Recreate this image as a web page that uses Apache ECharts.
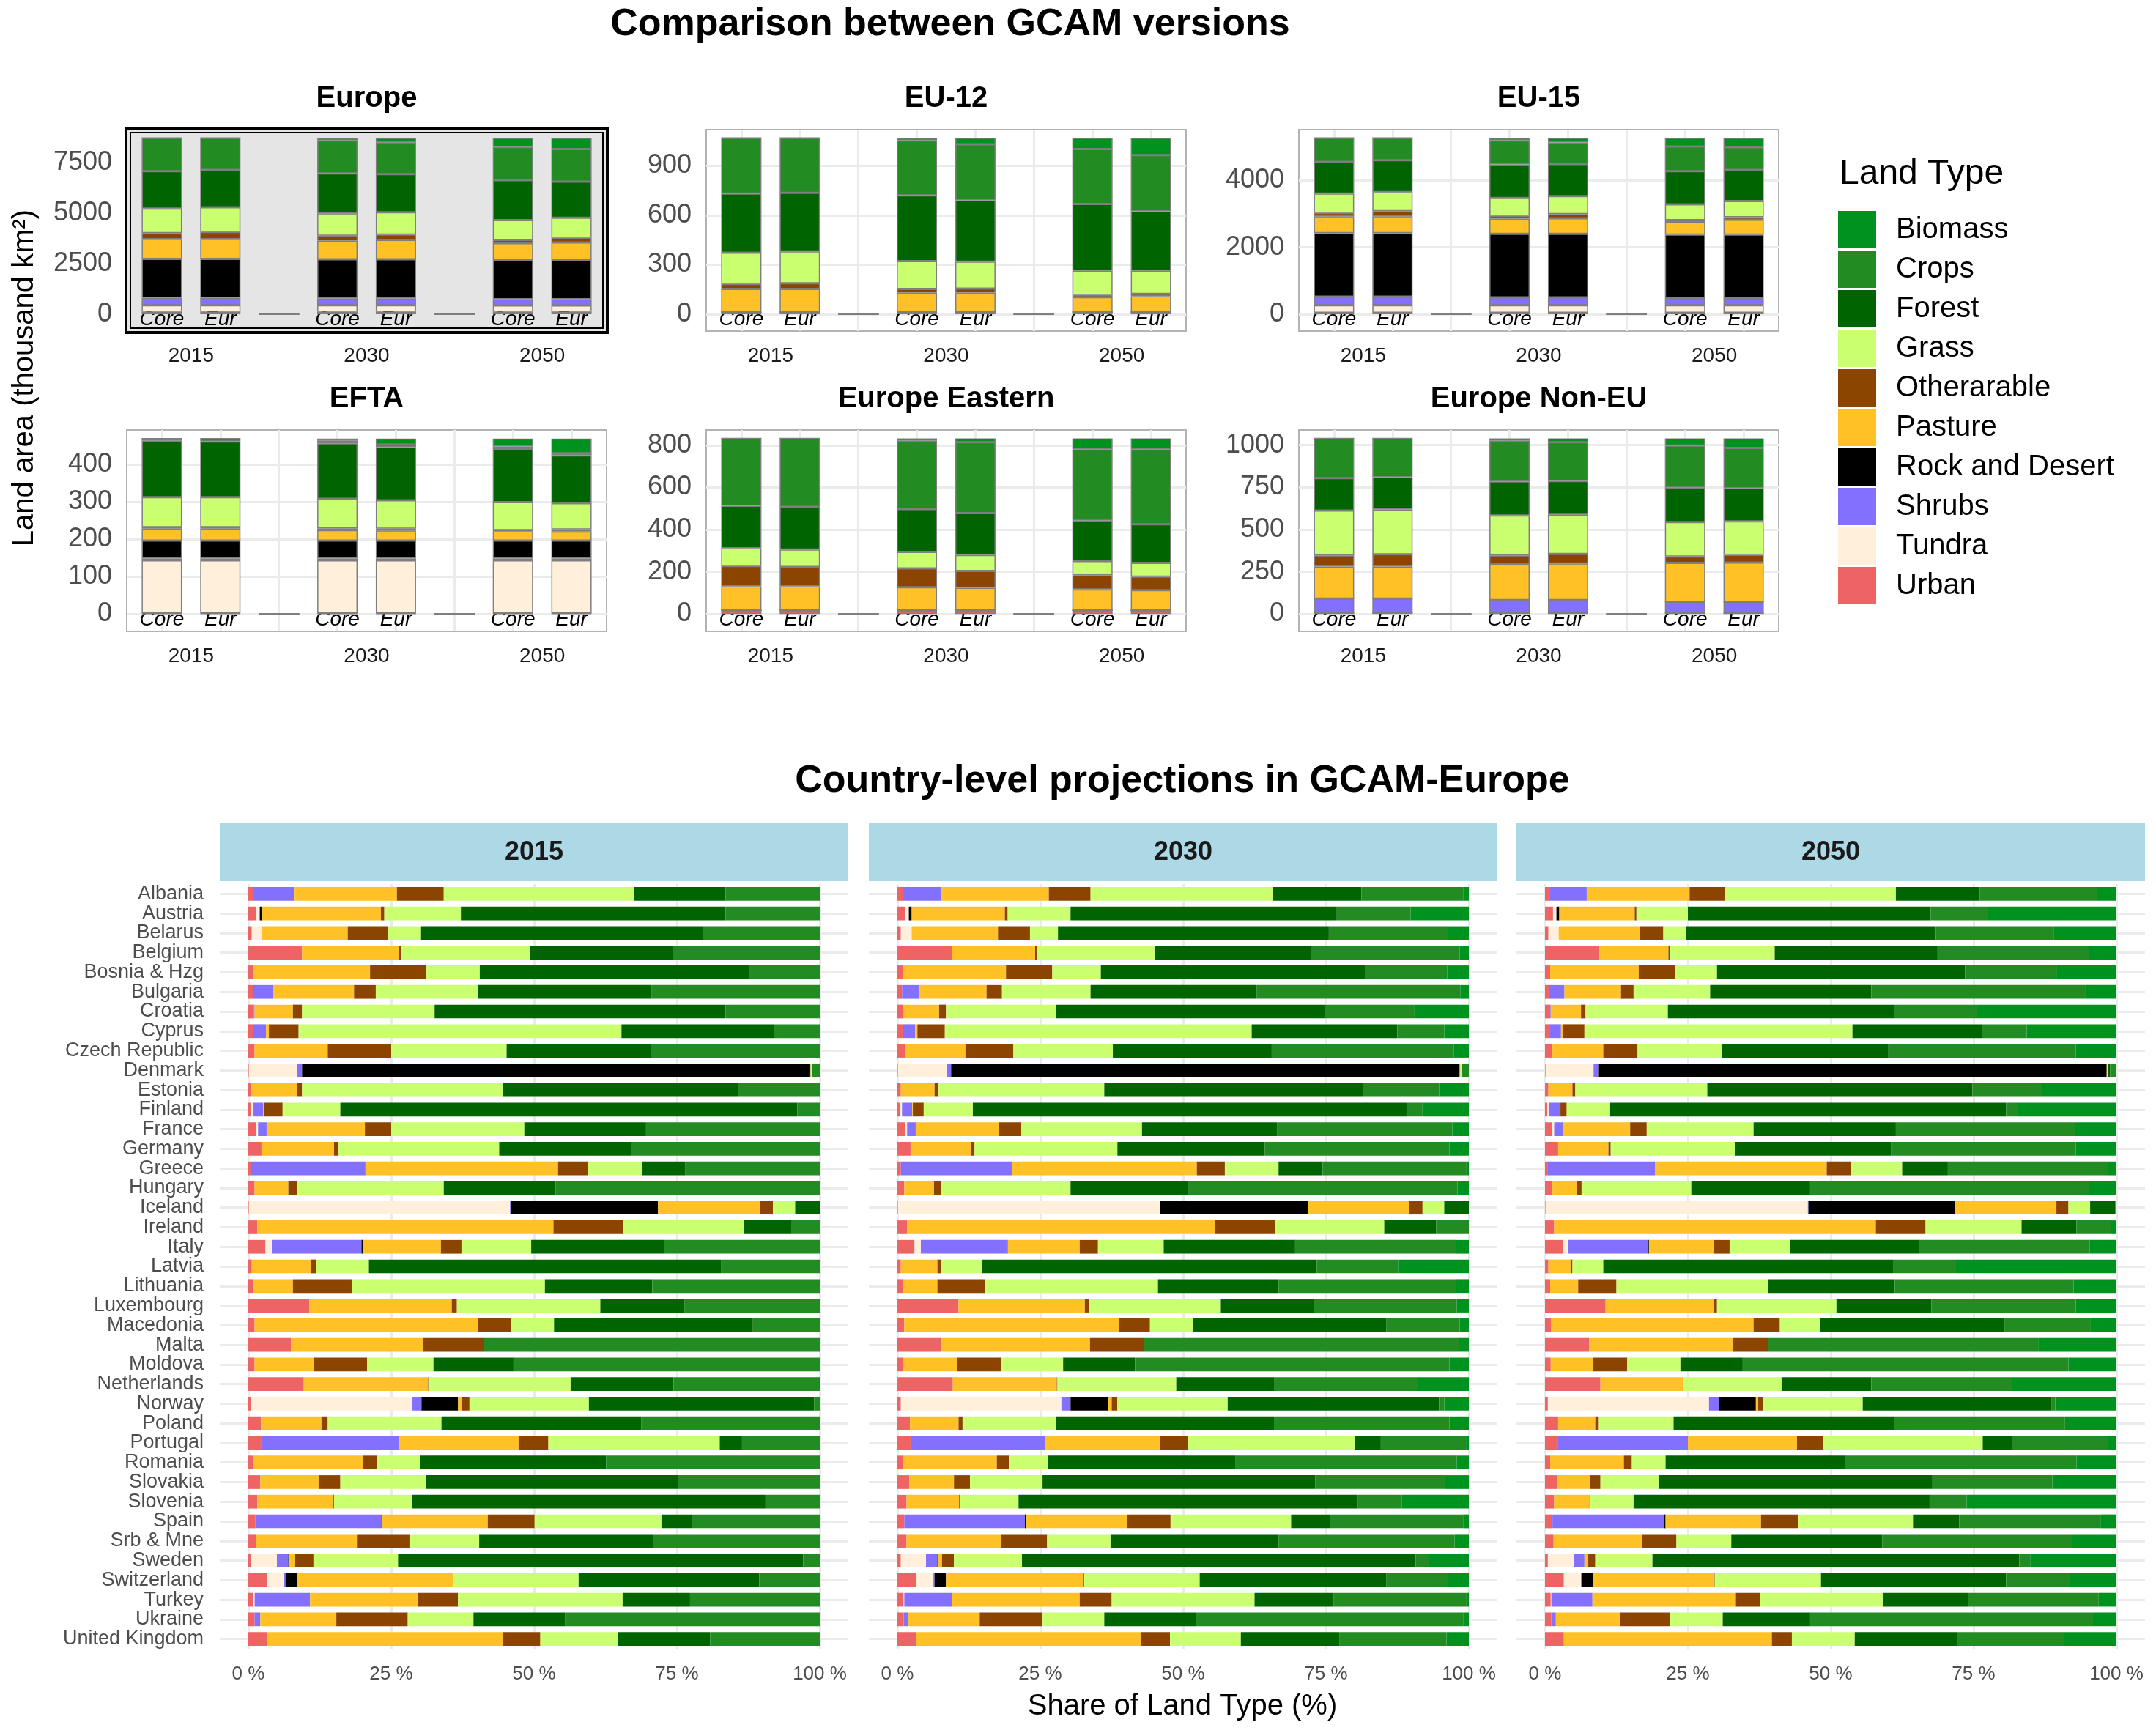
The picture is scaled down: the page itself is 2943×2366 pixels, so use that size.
<!DOCTYPE html>
<html>
<head>
<meta charset="utf-8">
<script src="https://cdn.jsdelivr.net/npm/echarts@6.0.0/dist/echarts.min.js"></script>
<style>
  html, body { margin: 0; padding: 0; background: #fff; }
  #chart { width: 2943px; height: 2366px; }
</style>
</head>
<body>
<div id="chart"></div>
<script>
// land types, bottom of the stack first
const landTypes = ['Urban', 'Tundra', 'Shrubs', 'Rock and Desert', 'Pasture', 'Otherarable', 'Grass', 'Forest', 'Crops', 'Biomass'];
const landColors = ['#EE6363', '#FFEFDB', '#8470FF', '#000000', '#FFC125', '#8B4500', '#CAFF70', '#006400', '#228B22', '#00921F'];
const legendOrder = ['Biomass', 'Crops', 'Forest', 'Grass', 'Otherarable', 'Pasture', 'Rock and Desert', 'Shrubs', 'Tundra', 'Urban'];

const years = ['2015', '2030', '2050'];
const versions = ['Core', 'Eur'];

// thousand km2, rows: Core 2015, Eur 2015, Core 2030, Eur 2030, Core 2050, Eur 2050
// columns follow landTypes
const europeArea = [
  [130, 315, 370, 1925, 980, 300, 1220, 1850, 1650, 0],
  [130, 315, 370, 1925, 980, 355, 1225, 1850, 1590, 0],
  [130, 315, 335, 1940, 930, 240, 1110, 1980, 1630, 130],
  [130, 315, 335, 1940, 965, 260, 1110, 1890, 1575, 220],
  [130, 310, 300, 1945, 835, 165, 980, 1980, 1645, 450],
  [130, 310, 300, 1945, 870, 240, 985, 1795, 1610, 555]
];
const eu12Area = [
  [12, 0, 2, 0, 140, 29, 191, 358, 338, 0],
  [12, 0, 2, 0, 140, 34, 193, 356, 333, 0],
  [12, 0, 2, 0, 117, 23, 168, 399, 333, 16],
  [12, 0, 2, 0, 117, 25, 163, 372, 340, 39],
  [12, 0, 2, 0, 90, 14, 145, 406, 333, 68],
  [12, 0, 2, 0, 95, 15, 139, 362, 341, 104]
];
const eu15Area = [
  [45, 223, 257, 1899, 503, 100, 581, 949, 715, 0],
  [45, 223, 257, 1899, 503, 156, 569, 950, 670, 0],
  [45, 223, 235, 1899, 458, 78, 536, 1005, 715, 78],
  [45, 223, 235, 1899, 469, 123, 536, 960, 648, 134],
  [45, 223, 212, 1899, 380, 56, 469, 994, 737, 257],
  [45, 223, 212, 1899, 447, 78, 480, 928, 681, 279]
];
const eftaArea = [
  [1, 142, 5, 48, 32, 4, 80, 151, 6, 0],
  [1, 142, 5, 48, 32, 4, 80, 149, 8, 0],
  [1, 142, 5, 48, 28, 5, 79, 148, 7, 6],
  [1, 142, 5, 48, 27, 5, 76, 142, 7, 16],
  [1, 142, 5, 48, 25, 3, 75, 142, 7, 21],
  [1, 142, 5, 48, 24, 6, 70, 128, 6, 39]
];
const easternArea = [
  [18, 0, 0, 0, 113, 97, 84, 201, 319, 0],
  [18, 0, 0, 0, 113, 92, 83, 202, 324, 0],
  [18, 0, 0, 0, 109, 89, 78, 203, 324, 11],
  [18, 0, 0, 0, 106, 80, 76, 198, 336, 18],
  [18, 0, 0, 0, 99, 67, 67, 192, 338, 51],
  [18, 0, 0, 0, 95, 64, 65, 183, 356, 51]
];
const nonEuArea = [
  [7, 0, 84, 0, 190, 66, 266, 192, 235, 0],
  [7, 0, 84, 0, 190, 73, 265, 191, 230, 0],
  [7, 0, 75, 0, 214, 51, 237, 201, 241, 14],
  [7, 0, 75, 0, 217, 57, 232, 199, 230, 23],
  [7, 0, 66, 0, 230, 38, 203, 204, 250, 42],
  [7, 0, 64, 0, 234, 45, 199, 196, 239, 56]
];

const europeTicks = [0, 2500, 5000, 7500];
const eu12Ticks = [0, 300, 600, 900];
const eu15Ticks = [0, 2000, 4000];
const eftaTicks = [0, 100, 200, 300, 400];
const easternTicks = [0, 200, 400, 600, 800];
const nonEuTicks = [0, 250, 500, 750, 1000];

const countries = ['Albania', 'Austria', 'Belarus', 'Belgium', 'Bosnia & Hzg', 'Bulgaria', 'Croatia', 'Cyprus',
  'Czech Republic', 'Denmark', 'Estonia', 'Finland', 'France', 'Germany', 'Greece', 'Hungary', 'Iceland',
  'Ireland', 'Italy', 'Latvia', 'Lithuania', 'Luxembourg', 'Macedonia', 'Malta', 'Moldova', 'Netherlands',
  'Norway', 'Poland', 'Portugal', 'Romania', 'Slovakia', 'Slovenia', 'Spain', 'Srb & Mne', 'Sweden',
  'Switzerland', 'Turkey', 'Ukraine', 'United Kingdom'];

// share of land type (%), columns follow landTypes
const share2015 = [
  [0.9, 0, 7.2, 0, 17.9, 8.2, 33.3, 16.0, 16.5, 0],
  [1.4, 0.6, 0, 0.4, 20.8, 0.6, 13.4, 46.3, 16.5, 0],
  [0.6, 1.7, 0, 0, 15.1, 7.0, 5.7, 49.4, 20.5, 0],
  [9.4, 0, 0, 0, 17.0, 0.3, 22.6, 25.0, 25.7, 0],
  [0.8, 0, 0, 0, 20.5, 9.8, 9.4, 47.1, 12.4, 0],
  [0.8, 0, 3.5, 0, 14.2, 3.8, 17.9, 30.4, 29.4, 0],
  [1.0, 0, 0.1, 0, 6.7, 1.6, 23.2, 50.9, 16.5, 0],
  [0.9, 0, 2.2, 0, 0.5, 5.2, 56.5, 26.7, 8.0, 0],
  [1.1, 0, 0, 0, 12.8, 11.1, 20.2, 25.2, 29.6, 0],
  [0.1, 8.4, 0.9, 88.8, 0.1, 0.1, 0.3, 0, 1.3, 0],
  [0.5, 0, 0, 0, 8.0, 0.9, 35.1, 41.2, 14.3, 0],
  [0.4, 0.4, 1.8, 0, 0.1, 3.3, 10.1, 80.0, 3.9, 0],
  [1.3, 0.4, 1.5, 0, 17.2, 4.6, 23.3, 21.3, 30.4, 0],
  [2.3, 0, 0, 0, 12.7, 0.8, 28.1, 23.1, 33.0, 0],
  [0.4, 0, 20.1, 0, 33.7, 5.2, 9.5, 7.6, 23.5, 0],
  [1.1, 0, 0, 0, 5.9, 1.6, 25.6, 19.6, 46.2, 0],
  [0.1, 45.7, 0.1, 25.8, 17.9, 2.2, 3.9, 4.3, 0, 0],
  [1.6, 0, 0, 0, 51.8, 12.2, 21.1, 8.3, 5.0, 0],
  [3.0, 1.1, 15.7, 0.2, 13.7, 3.6, 12.2, 23.3, 27.2, 0],
  [0.6, 0, 0, 0, 10.3, 0.9, 9.3, 61.6, 17.3, 0],
  [0.9, 0, 0, 0, 6.9, 10.4, 33.7, 18.8, 29.3, 0],
  [10.7, 0, 0, 0, 24.9, 0.9, 25.1, 14.7, 23.7, 0],
  [1.1, 0, 0, 0, 39.1, 5.8, 7.5, 34.8, 11.7, 0],
  [7.5, 0, 0, 0, 23.1, 10.6, 0, 0, 58.8, 0],
  [1.1, 0, 0, 0, 10.4, 9.3, 11.6, 14.0, 53.6, 0],
  [9.7, 0, 0, 0, 21.7, 0.1, 24.9, 18.0, 25.6, 0],
  [0.5, 28.2, 1.6, 6.4, 0.6, 1.4, 20.9, 39.4, 1.0, 0],
  [2.2, 0, 0, 0, 10.6, 1.1, 19.9, 35.0, 31.2, 0],
  [2.3, 0, 24.1, 0, 20.9, 5.2, 30.0, 3.9, 13.6, 0],
  [0.8, 0, 0, 0, 19.2, 2.5, 7.5, 32.6, 37.4, 0],
  [2.1, 0, 0, 0, 10.2, 3.8, 15.0, 44.1, 24.8, 0],
  [1.6, 0, 0, 0, 13.3, 0.1, 13.6, 61.9, 9.5, 0],
  [1.2, 0, 22.1, 0.1, 18.5, 8.2, 22.2, 5.3, 22.4, 0],
  [1.4, 0, 0, 0, 17.6, 9.2, 12.2, 30.5, 29.1, 0],
  [0.5, 4.5, 2.0, 0.1, 1.1, 3.2, 14.8, 70.9, 2.9, 0],
  [3.3, 2.9, 0.3, 2.0, 27.3, 0.1, 21.9, 31.6, 10.6, 0],
  [0.9, 0.2, 9.7, 0, 18.9, 7.0, 28.8, 11.8, 22.7, 0],
  [1.1, 0, 1.0, 0, 13.3, 12.5, 11.5, 16.0, 44.6, 0],
  [3.3, 0, 0, 0, 41.3, 6.5, 13.6, 16.1, 19.2, 0]
];
const share2030 = [
  [0.9, 0, 6.8, 0, 18.8, 7.3, 31.9, 15.5, 17.8, 1.0],
  [1.4, 0.6, 0, 0.5, 16.3, 0.5, 11.0, 46.6, 12.9, 10.2],
  [0.6, 1.9, 0, 0, 15.1, 5.6, 4.9, 47.4, 20.9, 3.6],
  [9.5, 0, 0, 0, 14.6, 0.3, 20.6, 27.4, 26.0, 1.6],
  [0.9, 0, 0, 0, 18.1, 8.1, 8.5, 46.3, 14.3, 3.8],
  [0.8, 0, 3.0, 0, 11.8, 2.7, 15.5, 29.1, 35.6, 1.5],
  [1.0, 0, 0.1, 0, 6.2, 1.2, 19.2, 47.1, 15.7, 9.5],
  [0.9, 0, 2.2, 0, 0.4, 4.8, 53.7, 25.5, 8.2, 4.3],
  [1.3, 0, 0, 0, 10.6, 8.4, 17.4, 27.8, 31.9, 2.6],
  [0.1, 8.5, 0.8, 88.9, 0.1, 0.1, 0.3, 0, 1.2, 0],
  [0.6, 0, 0, 0, 5.9, 0.7, 29.0, 45.3, 13.3, 5.2],
  [0.4, 0.4, 1.8, 0, 0.1, 1.9, 8.6, 75.9, 2.8, 8.1],
  [1.3, 0.4, 1.5, 0, 14.6, 3.9, 21.1, 23.7, 30.6, 2.9],
  [2.3, 0, 0, 0, 10.6, 0.6, 25.0, 25.8, 32.3, 3.4],
  [0.6, 0, 19.4, 0, 32.4, 4.9, 9.4, 7.7, 25.2, 0.4],
  [1.2, 0, 0, 0, 5.2, 1.3, 22.6, 20.7, 47.0, 2.0],
  [0.1, 45.8, 0.1, 25.8, 17.8, 2.3, 3.8, 4.3, 0, 0],
  [1.7, 0, 0, 0, 53.9, 10.5, 19.1, 9.1, 5.7, 0],
  [3.0, 1.1, 15.0, 0.2, 12.6, 3.2, 11.5, 23.0, 28.1, 2.3],
  [0.6, 0, 0, 0, 6.4, 0.6, 7.2, 58.6, 14.2, 12.4],
  [0.9, 0, 0, 0, 6.1, 8.4, 30.2, 21.1, 31.0, 2.3],
  [10.7, 0, 0, 0, 22.1, 0.7, 23.1, 16.3, 25.0, 2.1],
  [1.2, 0, 0, 0, 37.6, 5.4, 7.5, 33.9, 12.8, 1.6],
  [7.7, 0, 0, 0, 26.0, 9.5, 0, 0, 55.1, 1.7],
  [1.1, 0, 0, 0, 9.3, 7.8, 10.8, 12.6, 55.0, 3.4],
  [9.7, 0, 0, 0, 18.2, 0.1, 20.8, 17.2, 25.1, 8.9],
  [0.6, 28.1, 1.6, 6.6, 0.6, 1.0, 19.3, 37.0, 0.9, 4.3],
  [2.2, 0, 0, 0, 8.5, 0.7, 16.4, 38.1, 30.7, 3.4],
  [2.3, 0, 23.5, 0, 20.2, 4.9, 29.1, 4.6, 14.9, 0.5],
  [0.9, 0, 0, 0, 16.5, 2.1, 6.8, 32.9, 38.7, 2.1],
  [2.1, 0, 0, 0, 7.8, 2.8, 12.7, 47.7, 22.8, 4.1],
  [1.6, 0, 0, 0, 9.2, 0.1, 10.3, 59.4, 7.7, 11.7],
  [1.2, 0, 21.1, 0.2, 17.7, 7.6, 21.1, 6.8, 23.3, 1.0],
  [1.6, 0, 0, 0, 16.6, 8.0, 11.1, 29.4, 30.8, 2.5],
  [0.6, 4.4, 2.0, 0.1, 0.7, 2.1, 11.9, 68.9, 2.3, 7.0],
  [3.3, 3.0, 0.2, 2.0, 24.1, 0.1, 20.2, 32.7, 10.8, 3.6],
  [1.1, 0.1, 8.3, 0, 22.4, 5.6, 25.0, 13.8, 23.3, 0.4],
  [1.1, 0, 0.8, 0, 12.5, 11.0, 10.8, 16.1, 46.7, 1.0],
  [3.3, 0, 0, 0, 39.3, 5.1, 12.4, 17.3, 18.7, 3.9]
];
const share2050 = [
  [0.9, 0, 6.4, 0, 18.0, 6.2, 29.9, 14.7, 20.5, 3.4],
  [1.4, 0.6, 0, 0.5, 13.2, 0.3, 9.0, 42.5, 10.0, 22.5],
  [0.6, 1.8, 0, 0, 14.2, 4.1, 4.0, 43.7, 20.6, 11.0],
  [9.5, 0, 0, 0, 12.1, 0.2, 18.4, 28.5, 26.5, 4.8],
  [0.9, 0, 0, 0, 15.5, 6.4, 7.3, 43.4, 16.0, 10.5],
  [0.7, 0, 2.7, 0, 9.9, 2.2, 13.4, 28.2, 37.4, 5.5],
  [0.9, 0, 0.1, 0, 5.3, 0.8, 14.4, 39.6, 14.5, 24.4],
  [0.9, 0, 1.9, 0, 0.4, 3.7, 46.9, 22.7, 7.8, 15.7],
  [1.3, 0, 0, 0, 8.9, 6.0, 14.8, 29.1, 32.8, 7.1],
  [0.1, 8.4, 0.8, 89.0, 0.1, 0, 0.1, 0.4, 1.1, 0],
  [0.6, 0, 0, 0, 4.2, 0.5, 23.1, 46.4, 12.0, 13.2],
  [0.4, 0.3, 1.9, 0, 0.1, 1.1, 7.6, 69.3, 2.1, 17.2],
  [1.3, 0.3, 1.5, 0.1, 11.7, 2.9, 18.7, 24.9, 31.3, 7.3],
  [2.3, 0, 0, 0, 8.8, 0.4, 21.8, 27.3, 32.3, 7.1],
  [0.4, 0, 18.9, 0, 30.0, 4.3, 8.9, 8.0, 28.0, 1.5],
  [1.3, 0, 0, 0, 4.3, 0.8, 19.2, 20.8, 48.8, 4.8],
  [0.1, 45.9, 0.1, 25.7, 17.7, 2.1, 3.8, 4.4, 0.2, 0],
  [1.6, 0, 0, 0, 56.3, 8.7, 16.8, 9.6, 6.1, 0.9],
  [3.1, 1.0, 14.0, 0.1, 11.4, 2.7, 10.6, 22.5, 29.9, 4.7],
  [0.6, 0, 0, 0, 4.0, 0.2, 5.4, 50.7, 10.9, 28.2],
  [0.9, 0, 0, 0, 4.9, 6.7, 26.5, 22.2, 31.3, 7.5],
  [10.6, 0, 0, 0, 19.0, 0.5, 20.9, 16.6, 25.3, 7.1],
  [1.1, 0, 0, 0, 35.4, 4.6, 7.1, 32.2, 15.0, 4.6],
  [7.7, 0, 0, 0, 25.2, 6.1, 0, 0, 47.3, 13.7],
  [1.0, 0, 0, 0, 7.4, 6.0, 9.3, 10.9, 57.0, 8.4],
  [9.7, 0, 0, 0, 14.4, 0.1, 17.2, 15.7, 24.6, 18.3],
  [0.5, 28.2, 1.7, 6.5, 0.4, 0.8, 17.5, 33.0, 0.7, 10.7],
  [2.3, 0, 0, 0, 6.5, 0.5, 13.2, 38.6, 29.9, 9.0],
  [2.3, 0, 22.7, 0, 19.1, 4.5, 28.0, 5.3, 16.6, 1.5],
  [0.9, 0, 0, 0, 12.9, 1.4, 5.9, 31.4, 40.5, 7.0],
  [2.1, 0, 0, 0, 5.8, 1.8, 10.3, 47.8, 21.0, 11.2],
  [1.6, 0, 0, 0, 6.2, 0.1, 7.6, 51.8, 6.5, 26.2],
  [1.3, 0, 19.5, 0.3, 16.7, 6.5, 20.1, 8.1, 24.7, 2.8],
  [1.5, 0, 0, 0, 15.5, 6.0, 9.6, 26.4, 33.2, 7.8],
  [0.5, 4.5, 1.9, 0, 0.6, 1.3, 10.0, 64.2, 1.9, 15.1],
  [3.3, 3.0, 0.2, 1.9, 21.2, 0.1, 18.6, 32.4, 11.2, 8.1],
  [1.0, 0.1, 7.2, 0, 25.1, 4.2, 21.6, 14.8, 22.9, 3.1],
  [1.1, 0, 0.8, 0, 11.3, 8.7, 9.2, 15.3, 49.5, 4.1],
  [3.3, 0, 0, 0, 36.4, 3.5, 11.0, 17.9, 18.7, 9.2]
];
const shareTicks = [0, 25, 50, 75, 100];

const FONT = 'Liberation Sans';
const chart = echarts.init(document.getElementById('chart'));

// panel layout (pixels) and axis ranges
const topPanels = [
  { title: 'Europe', rows: europeArea, ticks: europeTicks, left: 173, top: 177, min: -835, max: 9148, framed: true },
  { title: 'EU-12', rows: eu12Area, ticks: eu12Ticks, left: 964, top: 177, min: -102, max: 1120 },
  { title: 'EU-15', rows: eu15Area, ticks: eu15Ticks, left: 1773, top: 177, min: -504, max: 5519 },
  { title: 'EFTA', rows: eftaArea, ticks: eftaTicks, left: 173, top: 587, min: -47, max: 492 },
  { title: 'Europe Eastern', rows: easternArea, ticks: easternTicks, left: 964, top: 587, min: -82, max: 872 },
  { title: 'Europe Non-EU', rows: nonEuArea, ticks: nonEuTicks, left: 1773, top: 587, min: -103, max: 1090 }
];
const panelW = 655, panelH = 275;

const grids = [], xAxes = [], yAxes = [], series = [], graphics = [];

// slots: Core, Eur for each year, with an empty slot between years
const slotNames = [], allSlots = [], yearSlots = [], yearLabel = {};
years.forEach((yr, i) => {
  versions.forEach((v) => slotNames.push(v + ' ' + yr));
  if (i < years.length - 1) slotNames.push('gap ' + yr);
  yearSlots.push(i * 3 + 0.5);
  yearLabel[i * 3 + 0.5] = yr;
});
slotNames.forEach((s, i) => allSlots.push(i));
const slotCount = slotNames.length;
const expand = 0.6;
const band = panelW / (slotCount - 1 + 2 * expand);

topPanels.forEach((p) => {
  // outer grid: panel background, grid lines, tick and year labels
  const ga = grids.length;
  grids.push({
    left: p.left, top: p.top, width: panelW, height: panelH,
    show: true,
    backgroundColor: p.framed ? '#E5E5E5' : '#FFFFFF',
    borderColor: '#B3B3B3',
    borderWidth: p.framed ? 0 : 2
  });
  xAxes.push({
    gridIndex: ga, type: 'value', min: -expand, max: slotCount - 1 + expand,
    axisLine: { show: false },
    axisTick: { show: false, customValues: allSlots },
    splitLine: { show: !p.framed, customValues: allSlots, lineStyle: { color: '#EBEBEB', width: 3 } },
    axisLabel: {
      customValues: yearSlots, formatter: (v) => yearLabel[v] || '',
      fontFamily: FONT, fontSize: 28, color: '#1A1A1A', margin: 20
    }
  });
  yAxes.push({
    gridIndex: ga, type: 'value', min: p.min, max: p.max,
    axisLine: { show: false },
    axisTick: { show: false, customValues: p.ticks },
    splitLine: { show: !p.framed, customValues: p.ticks, lineStyle: { color: '#EBEBEB', width: 3 } },
    axisLabel: { customValues: p.ticks, formatter: (v) => String(v), fontFamily: FONT, fontSize: 36, color: '#4D4D4D', margin: 20 }
  });

  // inner grid: the stacked bars on a category axis
  const gb = grids.length;
  grids.push({ left: p.left + band * (expand - 0.5), top: p.top, width: band * slotCount, height: panelH });
  xAxes.push({
    gridIndex: gb, type: 'category', data: slotNames,
    axisLine: { show: false }, axisTick: { show: false }, splitLine: { show: false },
    axisLabel: {
      inside: true, interval: 0, margin: 2,
      formatter: (v) => (v.indexOf('gap') === 0 ? '' : v.split(' ')[0]),
      fontFamily: FONT, fontSize: 28, fontStyle: 'italic', color: '#000'
    }
  });
  yAxes.push({ gridIndex: gb, type: 'value', min: p.min, max: p.max, show: false });
  const xi = xAxes.length - 1, yi = yAxes.length - 1;
  landTypes.forEach((lt, k) => {
    let b = 0;
    const data = slotNames.map((s) => (s.indexOf('gap') === 0 ? 0 : p.rows[b++][k]));
    series.push({
      type: 'bar', name: lt, xAxisIndex: xi, yAxisIndex: yi, stack: 'top' + gb,
      barWidth: 55, data: data,
      itemStyle: { color: landColors[k], borderColor: '#7F7F7F', borderWidth: 1.5 },
      emphasis: { disabled: true }
    });
  });

  graphics.push({
    type: 'text', x: p.left + panelW / 2, y: p.top - 42,
    style: { text: p.title, font: 'bold 40px ' + FONT, fill: '#000', textAlign: 'center', textVerticalAlign: 'middle', align: 'center', verticalAlign: 'middle' }
  });
  if (p.framed) {
    graphics.push({
      type: 'rect', shape: { x: p.left - 1, y: p.top - 2, width: panelW + 2, height: panelH + 4 },
      style: { fill: 'none', stroke: '#000', lineWidth: 4 }, z: 50
    });
    graphics.push({
      type: 'rect', shape: { x: p.left + 5, y: p.top + 4, width: panelW - 10, height: panelH - 8 },
      style: { fill: 'none', stroke: '#000', lineWidth: 2 }, z: 50
    });
  }
});

// country-level panels
const shares = [share2015, share2030, share2050];
const bottomLefts = [300, 1186, 2070];
const bottomW = 858, bottomTop = 1207, bottomH = 1044;
years.forEach((yr, p) => {
  const gi = grids.length;
  grids.push({ left: bottomLefts[p], top: bottomTop, width: bottomW, height: bottomH });
  xAxes.push({
    gridIndex: gi, type: 'value', min: -5, max: 105,
    axisLine: { show: false },
    axisTick: { show: false, customValues: shareTicks },
    splitLine: { show: true, customValues: shareTicks, lineStyle: { color: '#EBEBEB', width: 3 } },
    axisLabel: { customValues: shareTicks, formatter: (v) => v + ' %', fontFamily: FONT, fontSize: 26, color: '#4D4D4D', margin: 22 }
  });
  yAxes.push({
    gridIndex: gi, type: 'category', data: countries, inverse: true,
    axisLine: { show: false }, axisTick: { show: false, alignWithLabel: true },
    splitLine: { show: true, alignWithLabel: true, interval: 0, lineStyle: { color: '#EBEBEB', width: 3 } },
    axisLabel: { show: p === 0, interval: 0, fontFamily: FONT, fontSize: 27, color: '#4D4D4D', margin: 22 }
  });
  const xi = xAxes.length - 1, yi = yAxes.length - 1;
  landTypes.forEach((lt, k) => {
    series.push({
      type: 'bar', name: lt, xAxisIndex: xi, yAxisIndex: yi, stack: 'share' + p,
      barWidth: '70%', data: shares[p].map((r) => r[k]),
      itemStyle: { color: landColors[k] }, emphasis: { disabled: true }
    });
  });
  graphics.push({
    type: 'rect', shape: { x: bottomLefts[p], y: 1124, width: bottomW, height: 79 },
    style: { fill: '#ADD8E6' }
  });
  graphics.push({
    type: 'text', x: bottomLefts[p] + bottomW / 2, y: 1164,
    style: { text: yr, font: 'bold 36px ' + FONT, fill: '#1A1A1A', textAlign: 'center', textVerticalAlign: 'middle', align: 'center', verticalAlign: 'middle' }
  });
});

// titles
function label(text, x, y, font, extra) {
  return Object.assign({
    type: 'text', x: x, y: y,
    style: { text: text, font: font, fill: '#000', textAlign: 'center', textVerticalAlign: 'middle', align: 'center', verticalAlign: 'middle' }
  }, extra || {});
}
graphics.push(label('Comparison between GCAM versions', 1297, 34, 'bold 52px ' + FONT));
graphics.push(label('Country-level projections in GCAM-Europe', 1614, 1067, 'bold 52px ' + FONT));
graphics.push(label('Land area (thousand km²)', 34, 516, '40px ' + FONT, { rotation: Math.PI / 2 }));
graphics.push(label('Share of Land Type (%)', 1614, 2330, '40px ' + FONT));
graphics.push({
  type: 'text', x: 2511, y: 238,
  style: { text: 'Land Type', font: '48px ' + FONT, fill: '#000', textAlign: 'left', textVerticalAlign: 'middle', align: 'left', verticalAlign: 'middle' }
});

chart.setOption({
  animation: false,
  textStyle: { fontFamily: FONT },
  grid: grids,
  xAxis: xAxes,
  yAxis: yAxes,
  series: series,
  legend: {
    data: legendOrder, orient: 'vertical', left: 2509, top: 288, padding: 0,
    itemWidth: 52, itemHeight: 51, itemGap: 3, icon: 'rect', selectedMode: false,
    itemStyle: { borderWidth: 0 },
    textStyle: { fontFamily: FONT, fontSize: 40, color: '#000', padding: [0, 0, 0, 22] }
  },
  graphic: { elements: graphics }
});
</script>
</body>
</html>
